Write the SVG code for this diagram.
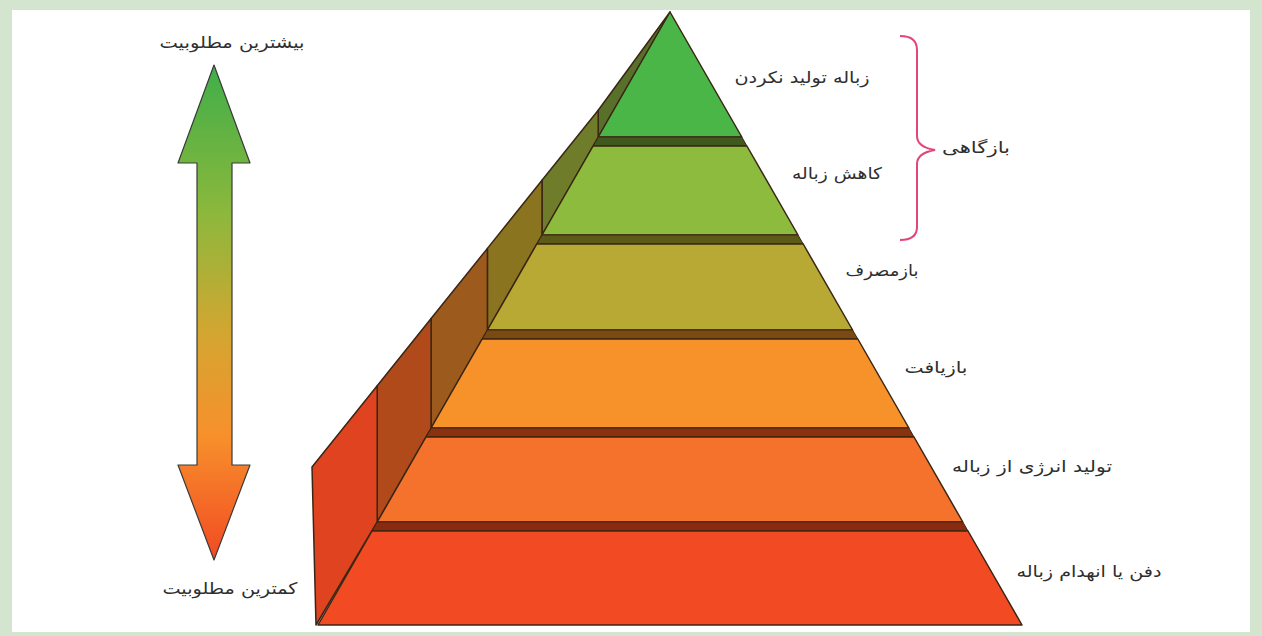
<svg xmlns="http://www.w3.org/2000/svg" width="1262" height="636" viewBox="0 0 1262 636">
<style>
.lbl{font-family:"DejaVu Sans","Noto Sans",sans-serif;font-size:16px;fill:#2e2e2e;text-anchor:middle}
.face{stroke:#3a2614;stroke-width:1.5;stroke-linejoin:round}
.band{stroke:#3a2614;stroke-width:1}
.side{stroke:#3a2614;stroke-width:1.5;stroke-linejoin:round}
</style>
<defs>
<linearGradient id="arrowGrad" x1="0" y1="65" x2="0" y2="560" gradientUnits="userSpaceOnUse">
<stop offset="0" stop-color="#3fae49"/>
<stop offset="0.3" stop-color="#8cb83c"/>
<stop offset="0.55" stop-color="#d5a531"/>
<stop offset="0.75" stop-color="#f7902b"/>
<stop offset="1" stop-color="#f24a23"/>
</linearGradient>
</defs>
<rect x="0" y="0" width="1262" height="636" fill="#d3e4cf"/>
<rect x="12" y="10" width="1238" height="622" fill="#ffffff"/>

<g id="arrow">
<polygon points="214,65 250,163 232,163 232,465 250,465 214,560 178,465 197,465 197,163 178,163" fill="url(#arrowGrad)" stroke="#3a3a3a" stroke-width="1.2" stroke-linejoin="round"/>
<text class="lbl" x="232" y="48" textLength="145" lengthAdjust="spacingAndGlyphs">بیشترین مطلوبیت</text>
<text class="lbl" x="230" y="594" textLength="135" lengthAdjust="spacingAndGlyphs">کمترین مطلوبیت</text>
</g>

<g id="pyramid-side">
<polygon class="side" points="670,12 598.2,110.3 598.2,137" fill="#58702a"/>
<polygon class="side" points="598.2,110.3 542,180.3 542,235 598.2,137" fill="#6f7d2a"/>
<polygon class="side" points="542,180.3 487.4,248.4 487.4,330 542,235" fill="#8a7420"/>
<polygon class="side" points="487.4,248.4 431.1,318.5 431.1,428 487.4,330" fill="#9c5a1c"/>
<polygon class="side" points="431.1,318.5 377.2,385.7 377.2,522 431.1,428" fill="#b04a1b"/>
<polygon class="side" points="377.2,385.7 312,467 316,625 377.2,522" fill="#df4320"/>
</g>

<g id="layer1">
<polygon class="face" points="670,12 741.8,137 598.2,137" fill="#4ab648"/>
<text class="lbl" x="802" y="83" textLength="135" lengthAdjust="spacingAndGlyphs">زباله تولید نکردن</text>
</g>
<g id="layer2">
<polygon class="band" points="598.2,137 741.8,137 746.9,146 593.1,146" fill="#3f5a1c"/>
<polygon class="face" points="593.1,146 746.9,146 798,235 542,235" fill="#8dbb3e"/>
<text class="lbl" x="837" y="179" textLength="90" lengthAdjust="spacingAndGlyphs">کاهش زباله</text>
</g>
<g id="layer3">
<polygon class="band" points="542,235 798,235 803.2,244 536.8,244" fill="#5b5a17"/>
<polygon class="face" points="536.8,244 803.2,244 852.6,330 487.4,330" fill="#b8a834"/>
<text class="lbl" x="882" y="276" textLength="73" lengthAdjust="spacingAndGlyphs">بازمصرف</text>
</g>
<g id="layer4">
<polygon class="band" points="487.4,330 852.6,330 857.8,339 482.2,339" fill="#7b4a12"/>
<polygon class="face" points="482.2,339 857.8,339 908.9,428 431.1,428" fill="#f7922b"/>
<text class="lbl" x="936" y="373" textLength="63" lengthAdjust="spacingAndGlyphs">بازیافت</text>
</g>
<g id="layer5">
<polygon class="band" points="431.1,428 908.9,428 914,437 426,437" fill="#8a3210"/>
<polygon class="face" points="426,437 914,437 962.8,522 377.2,522" fill="#f4722b"/>
<text class="lbl" x="1032" y="472" textLength="160" lengthAdjust="spacingAndGlyphs">تولید انرژی از زباله</text>
</g>
<g id="layer6">
<polygon class="band" points="377.2,522 962.8,522 968,531 372,531" fill="#8a2a10"/>
<polygon class="face" points="372,531 968,531 1022,625 318,625" fill="#f24b24"/>
<text class="lbl" x="1089" y="577" textLength="145" lengthAdjust="spacingAndGlyphs">دفن یا انهدام زباله</text>
</g>

<g id="bracket">
<path d="M 900 36 Q 917 36 917 50 L 917 136 Q 917 147 935 150 Q 917 153 917 164 L 917 227 Q 917 240 900 240" fill="none" stroke="#e2457c" stroke-width="2"/>
<text class="lbl" x="976" y="153" textLength="68" lengthAdjust="spacingAndGlyphs">بازگاهی</text>
</g>
</svg>
